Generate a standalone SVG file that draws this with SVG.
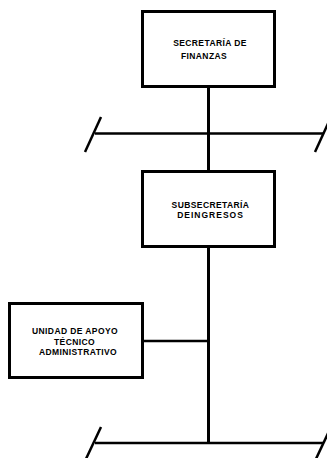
<svg xmlns="http://www.w3.org/2000/svg" width="327" height="458" viewBox="0 0 327 458">
<style>
.box{fill:#fff;stroke:#000;stroke-width:3}
.ln{stroke:#000;stroke-width:2.5;fill:none;stroke-linecap:butt}
.vl{stroke:#000;stroke-width:3;fill:none}
.t{font-family:"Liberation Sans",Arial,sans-serif;font-weight:bold;font-size:8.5px;fill:#000;text-anchor:middle;letter-spacing:0.4px}
</style>
<rect width="327" height="458" fill="#fff"/>
<g id="connectors">
<line class="vl" x1="208.5" y1="88" x2="208.5" y2="443.5"/>
<line class="ln" x1="95" y1="133.5" x2="323" y2="133.5"/>
<line class="ln" x1="85" y1="152" x2="101" y2="117"/>
<line class="ln" x1="315" y1="152" x2="331" y2="117"/>
<line class="ln" x1="144" y1="341" x2="208.5" y2="341"/>
<line class="ln" x1="95" y1="443" x2="323" y2="443"/>
<line class="ln" x1="85" y1="461" x2="101" y2="427"/>
<line class="ln" x1="315" y1="461" x2="331" y2="427"/>
</g>
<g id="secretaria">
<rect class="box" x="142.5" y="11.5" width="132" height="75"/>
<text class="t" x="210" y="46">SECRETARÍA DE</text>
<text class="t" x="204" y="59">FINANZAS</text>
</g>
<g id="subsecretaria">
<rect class="box" x="142.5" y="171.5" width="132" height="75"/>
<text class="t" x="210.5" y="208">SUBSECRETARÍA</text>
<text class="t" x="210.5" y="218" style="letter-spacing:1px">DEINGRESOS</text>
</g>
<g id="unidad">
<rect class="box" x="9.5" y="303.5" width="133" height="74"/>
<text class="t" x="75" y="333.5">UNIDAD DE APOYO</text>
<text class="t" x="74.5" y="344.5">TÉCNICO</text>
<text class="t" x="78" y="355">ADMINISTRATIVO</text>
</g>
</svg>
